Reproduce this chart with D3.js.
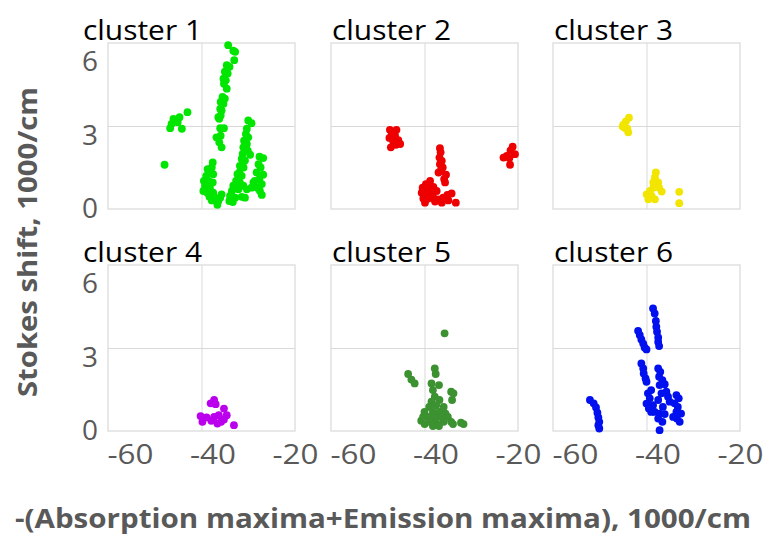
<!DOCTYPE html>
<html>
<head>
<meta charset="utf-8">
<script src="https://cdn.jsdelivr.net/npm/d3@7/dist/d3.min.js"></script>
<style>
  body { margin: 0; background: #fff; }
  svg { display: block; }
  text { font-family: "Open Sans", "Noto Sans", sans-serif; }
</style>
</head>
<body>
<script>
// ---- data: [-(abs max + em max), Stokes shift] in 1000/cm ----
const clusterNames = ["cluster 1", "cluster 2", "cluster 3", "cluster 4", "cluster 5", "cluster 6"];
const clusterColors = ["#00e600", "#ee0000", "#f2e600", "#bb00ee", "#3c9130", "#0010ee"];
const xTicks = [-60, -40, -20];
const yTicks = [0, 3, 6];
const xTitle = "-(Absorption maxima+Emission maxima), 1000/cm";
const yTitle = "Stokes shift, 1000/cm";

const cluster1 = [
  [-34.3,5.92],[-33.2,5.72],[-32.8,5.68],[-33.0,5.38],[-34.6,5.20],[-34.0,5.14],[-35.0,4.96],
  [-34.4,4.90],[-35.3,4.71],[-34.8,4.65],[-35.2,4.53],[-34.6,4.35],[-35.5,4.05],[-35.0,3.99],
  [-35.9,3.87],[-35.3,3.80],[-36.0,3.62],[-35.7,3.56],[-36.4,3.32],[-35.9,3.38],[-36.2,3.26],
  [-36.0,2.92],[-35.2,2.92],[-36.8,2.59],[-35.9,2.65],[-36.2,2.41],[-35.7,2.23],
  [-43.0,3.50],[-44.7,3.32],[-46.0,3.26],[-46.4,3.08],[-45.1,3.14],[-46.7,2.92],[-44.2,2.90],
  [-47.9,1.60],
  [-30.0,3.20],[-29.3,3.10],[-30.3,2.90],[-30.5,2.71],[-30.0,2.59],[-30.9,2.47],[-30.3,2.35],
  [-31.05,2.23],[-30.1,2.11],[-31.2,1.99],[-29.6,1.96],[-31.4,1.81],[-30.7,1.75],[-31.8,1.56],
  [-31.0,1.50],[-31.9,1.32],[-32.3,1.26],[-31.4,1.20],[-32.6,1.02],[-31.8,0.96],[-33.2,0.84],
  [-31.05,0.84],[-33.5,0.65],[-32.1,0.71],[-30.3,0.71],[-33.9,0.47],[-32.8,0.41],[-31.4,0.44],
  [-34.05,0.29],[-33.3,0.25],[-30.7,0.41],[-29.3,0.77],[-28.9,0.96],
  [-27.6,1.89],[-26.8,1.84],[-27.8,1.62],[-27.35,1.50],[-28.2,1.32],[-26.8,1.24],[-27.6,1.08],
  [-28.6,1.02],[-27.1,0.90],[-28.1,0.77],[-27.5,0.65],[-27.1,0.51],
  [-37.6,1.68],[-37.8,1.50],[-38.7,1.44],[-38.2,1.32],[-39.0,1.20],[-37.5,1.26],[-39.5,1.02],
  [-38.5,1.02],[-37.6,0.96],[-39.25,0.84],[-38.2,0.77],[-39.6,0.65],[-38.75,0.59],[-37.5,0.59],
  [-38.3,0.44],[-37.1,0.41],[-37.8,0.31],[-36.4,0.29],[-36.6,0.15],[-35.7,0.53],[-36.0,0.41]
];
const cluster2 = [
  [-47.4,2.86],[-46.0,2.86],[-47.0,2.71],[-46.3,2.65],[-47.5,2.57],[-45.6,2.49],[-46.7,2.45],
  [-45.2,2.35],[-47.2,2.23],[-46.1,2.32],
  [-21.15,2.25],[-21.6,2.11],[-20.65,1.98],[-22.4,1.92],[-23.1,1.86],[-21.85,1.84],[-21.7,1.60],
  [-36.7,2.20],[-36.55,2.05],[-36.8,1.86],[-36.3,1.74],[-36.7,1.62],[-36.1,1.50],[-37.0,1.32],
  [-36.55,1.38],[-35.4,1.24],[-35.8,1.08],[-35.6,0.96],
  [-38.8,1.02],[-39.7,0.90],[-40.4,0.77],[-39.2,0.77],[-38.1,0.80],[-40.6,0.59],[-39.55,0.59],
  [-38.5,0.59],[-37.4,0.65],[-40.25,0.38],[-39.2,0.38],[-38.1,0.41],[-37.05,0.35],[-36.0,0.41],
  [-35.1,0.51],[-34.2,0.56],[-36.3,0.23],[-37.75,0.27],[-33.3,0.23],[-34.9,0.31],[-39.9,0.23]
];
const cluster3 = [
  [-43.75,3.30],[-44.4,3.17],[-44.95,3.05],[-44.6,2.93],[-43.9,2.77],[-44.1,2.90],[-45.1,2.98],
  [-38.0,1.32],[-38.2,1.14],[-38.55,0.96],[-37.5,0.96],[-37.3,0.77],[-38.55,0.77],[-36.75,0.63],
  [-39.25,0.65],[-39.97,0.53],[-38.9,0.47],[-39.6,0.35],[-38.2,0.35],[-33.0,0.62],[-33.0,0.21]
];
const cluster4 = [
  [-37.3,1.12],[-38.04,1.00],[-36.97,0.97],[-35.2,0.81],[-40.2,0.54],[-38.9,0.49],[-37.3,0.51],
  [-36.3,0.57],[-34.6,0.57],[-39.8,0.33],[-37.9,0.37],[-35.8,0.33],[-35.2,0.42],[-36.6,0.27],
  [-33.06,0.21]
];
const cluster5 = [
  [-35.7,3.53],[-37.8,2.26],[-37.6,2.06],[-43.5,2.06],[-42.8,1.86],[-42.1,1.72],[-38.5,1.72],
  [-36.9,1.66],[-38.2,1.48],[-34.3,1.42],[-33.8,1.36],[-34.1,1.12],[-37.8,1.24],[-36.8,1.12],
  [-38.5,1.06],[-39.0,0.87],[-37.5,0.93],[-35.9,0.87],[-40.0,0.69],[-38.2,0.69],[-36.8,0.69],
  [-35.5,0.63],[-39.25,0.51],[-37.8,0.51],[-36.4,0.51],[-35.0,0.51],[-40.7,0.37],[-38.9,0.33],
  [-37.5,0.30],[-35.9,0.33],[-34.3,0.33],[-32.2,0.30],[-39.96,0.25],[-38.2,0.18],[-36.9,0.18],
  [-33.9,0.25],[-31.65,0.25],[-40.3,0.51]
];
const cluster6 = [
  [-52.1,1.12],[-51.3,1.00],[-50.8,0.85],[-50.5,0.66],[-50.3,0.49],[-50.1,0.33],[-50.3,0.21],
  [-50.1,0.09],
  [-38.6,4.43],[-38.25,4.25],[-38.0,3.98],[-37.9,3.77],[-37.75,3.59],[-37.5,3.38],[-37.5,3.22],
  [-37.3,3.07],
  [-41.8,3.62],[-41.45,3.47],[-41.1,3.31],[-40.7,3.16],[-40.4,3.02],[-40.0,2.95],
  [-41.1,2.44],[-40.7,2.26],[-40.6,2.08],[-40.2,1.90],[-40.0,1.78],
  [-37.5,2.26],[-37.05,2.14],[-37.3,1.96],[-36.6,1.84],[-36.1,1.69],[-37.2,1.66],
  [-39.7,1.36],[-39.0,1.48],[-39.3,1.18],[-40.0,0.99],[-38.6,0.93],[-37.5,1.12],[-36.8,1.36],
  [-35.75,1.42],[-35.4,1.24],[-35.05,1.06],[-36.5,0.87],[-38.25,0.69],[-37.2,0.63],[-36.1,0.61],
  [-37.5,0.45],[-36.6,0.33],[-37.2,0.03],[-39.0,0.69],[-39.5,0.81],[-33.6,1.30],[-33.1,1.18],
  [-34.0,1.00],[-33.3,0.87],[-33.6,0.69],[-32.6,0.63],[-33.5,0.45],[-32.9,0.33],[-34.3,0.51]
];
const clusterData = [cluster1, cluster2, cluster3, cluster4, cluster5, cluster6];

// ---- layout ----
const W = 764, H = 537;
const colLeft = [108, 331, 553];
const rowTop = [43, 265];
const pw = 187, ph = 166;
const gridColor = "#d9d9d9";
const textGrey = "#595959";

const svg = d3.select("body").append("svg")
  .attr("width", W).attr("height", H)
  .style("background", "#fff");

// scales shared by every panel (panel-local coordinates)
const x = d3.scaleLinear().domain([-60, -20]).range([0, pw]);
const y = d3.scaleLinear().domain([0, 6]).range([ph, 0]);
// tick-label placement scales
const xLab = d3.scaleLinear().domain([-60, -20]).range([22, pw]);
const yLab = d3.scaleLinear().domain([0, 6]).range([ph - 1, 18]);
const plain = d => String(d);   // hyphen-minus, no decimals

// stretch a text element horizontally to a given width
function fitWidth(sel, w) {
  sel.attr("textLength", w).attr("lengthAdjust", "spacingAndGlyphs");
}

clusterData.forEach((pts, i) => {
  const col = i % 3, row = Math.floor(i / 3);
  const g = svg.append("g")
    .attr("transform", `translate(${colLeft[col]},${rowTop[row]})`);

  // grid lines
  g.append("g")
    .attr("transform", `translate(0,${ph})`)
    .call(d3.axisBottom(x).tickValues([-40]).tickSize(-ph).tickFormat(""))
    .call(a => a.select(".domain").remove())
    .selectAll("line").attr("stroke", gridColor);
  g.append("g")
    .call(d3.axisLeft(y).tickValues([3]).tickSize(-pw).tickFormat(""))
    .call(a => a.select(".domain").remove())
    .selectAll("line").attr("stroke", gridColor);
  g.append("rect")
    .attr("x", 0).attr("y", 0).attr("width", pw).attr("height", ph)
    .attr("fill", "none").attr("stroke", gridColor).attr("stroke-width", 1.2);

  // points
  g.append("g").selectAll("circle")
    .data(pts).join("circle")
    .attr("cx", d => x(d[0]))
    .attr("cy", d => y(d[1]))
    .attr("r", 3.9)
    .attr("fill", clusterColors[i]);

  // panel title
  const tx = col === 0 ? -25 : 1;
  g.append("text")
    .attr("x", tx).attr("y", -3)
    .attr("font-size", 27)
    .attr("fill", "#000")
    .text(clusterNames[i])
    .call(fitWidth, 119);

  // y tick labels on the left column
  if (col === 0) {
    const ya = g.append("g")
      .attr("transform", "translate(-10,0)")
      .call(d3.axisLeft(yLab).tickValues(yTicks).tickSize(0).tickPadding(0).tickFormat(plain))
      .call(a => a.select(".domain").remove());
    ya.selectAll("text")
      .attr("font-size", 27).attr("font-family", "'Open Sans', sans-serif")
      .attr("fill", textGrey).attr("dy", "0.36em")
      .call(fitWidth, 16);
  }

  // x tick labels on the bottom row
  if (row === 1) {
    const xa = g.append("g")
      .attr("transform", `translate(0,${ph})`)
      .call(d3.axisBottom(xLab).tickValues(xTicks).tickSize(0).tickPadding(14).tickFormat(plain))
      .call(a => a.select(".domain").remove());
    xa.selectAll("text")
      .attr("font-size", 27).attr("font-family", "'Open Sans', sans-serif")
      .attr("fill", textGrey)
      .call(fitWidth, 46);
  }
});

// axis titles
svg.append("text")
  .attr("transform", "translate(37,242) rotate(-90)")
  .attr("text-anchor", "middle")
  .attr("font-size", 27).attr("font-weight", "bold")
  .attr("fill", textGrey)
  .text(yTitle)
  .call(fitWidth, 310);

svg.append("text")
  .attr("x", 383).attr("y", 528)
  .attr("text-anchor", "middle")
  .attr("font-size", 26).attr("font-weight", "bold")
  .attr("fill", textGrey)
  .text(xTitle)
  .call(fitWidth, 736);
</script>
</body>
</html>
